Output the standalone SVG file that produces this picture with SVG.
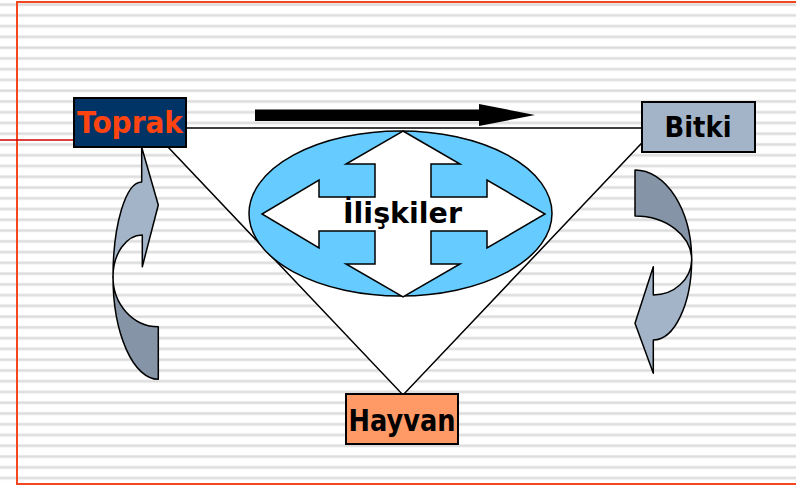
<svg xmlns="http://www.w3.org/2000/svg" width="796" height="486" viewBox="0 0 796 486">
  <defs>
    <!-- ruled-paper background -->
    <pattern id="rules" x="0" y="3" width="796" height="10.76" patternUnits="userSpaceOnUse">
      <rect x="0" y="0" width="796" height="3.2" fill="#e9e9e9"/>
      <rect x="0" y="0.9" width="796" height="1.5" fill="#dcdcdc"/>
    </pattern>
    <style>
      .edge { fill: none; stroke: #000; stroke-width: 1.5; }
      .box { stroke: #000; stroke-width: 2; }
      .lbl { font-family: "DejaVu Sans", "Liberation Sans", sans-serif; font-weight: bold; text-anchor: middle; }
      .light { fill: #a4b4c8; stroke: #000; stroke-width: 1.5; stroke-linejoin: round; }
      .dark { fill: #8594a6; stroke: #000; stroke-width: 1.5; stroke-linejoin: round; }
    </style>
  </defs>

  <!-- page -->
  <rect x="0" y="0" width="796" height="486" fill="#ffffff"/>
  <rect x="0" y="0" width="796" height="486" fill="url(#rules)"/>
  <rect x="17" y="2" width="790" height="482" fill="none" stroke="#f5471f" stroke-width="2"/>
  <line x1="0" y1="140" x2="74" y2="140" stroke="#cc0000" stroke-width="1.6"/>

  <!-- connectors -->
  <g id="connectors">
    <polygon class="edge" points="150,128 656,128 403,395" style="fill:#ffffff"/>
    <polygon points="255,109.5 479,109.5 479,104 535,115 479,126 479,121 255,121" fill="#000"/>

    <!-- cycle arrow under Toprak -->
    <g id="cycle-left">
      <path class="dark" d="M113,277 A45.3,102.3 0 0 0 158.3,379.3 L158.3,326.7 A45.3,49.7 0 0 1 113,277 Z"/>
      <path class="light" d="M113,277 A28.7,95 0 0 1 141.7,182 L141.7,147.3 L158.3,205 L142.3,266.7 L142.3,235 A29.3,42 0 0 0 113,277 Z"/>
    </g>

    <!-- cycle arrow under Bitki -->
    <g id="cycle-right">
      <path class="dark" d="M635,170 A56.7,90 0 0 1 691.7,260 A56.7,44 0 0 0 635,216 Z"/>
      <path class="light" d="M691.7,260 A38.4,81 0 0 1 653.3,340 L653.3,373.3 L635,323.3 L653.3,266.7 L653.3,295 A38.4,36 0 0 0 691.7,260 Z"/>
    </g>
  </g>

  <!-- central relation node -->
  <g id="iliskiler">
    <ellipse cx="400.5" cy="213.5" rx="151.5" ry="82.5" fill="#66ccff" stroke="#000" stroke-width="1.5"/>
    <polygon fill="#ffffff" stroke="#000" stroke-width="1.5" stroke-linejoin="miter"
      points="403,131 460,164 431,164 431,197 487,197 487,180 545,214 487,248 487,231 431,231 431,264 460,264 403,297 346,264 375,264 375,231 319,231 319,248 262,214 319,180 319,197 375,197 375,164 346,164"/>
    <text class="lbl" x="402.5" y="223" font-size="29" textLength="119" lengthAdjust="spacingAndGlyphs" fill="#000">İlişkiler</text>
  </g>

  <g id="toprak">
    <rect class="box" x="74" y="98" width="112" height="49" fill="#003366"/>
    <text class="lbl" x="130" y="133" font-size="30" textLength="106" lengthAdjust="spacingAndGlyphs" fill="#ff4411">Toprak</text>
  </g>

  <g id="bitki">
    <rect class="box" x="642" y="102" width="113" height="50" fill="#a4b4c8"/>
    <text class="lbl" x="698" y="137" font-size="29" textLength="67" lengthAdjust="spacingAndGlyphs" fill="#000">Bitki</text>
  </g>

  <g id="hayvan">
    <rect class="box" x="346" y="394" width="112" height="50" fill="#ff9966"/>
    <text class="lbl" x="402" y="431" font-size="30" textLength="107" lengthAdjust="spacingAndGlyphs" fill="#000">Hayvan</text>
  </g>
</svg>
